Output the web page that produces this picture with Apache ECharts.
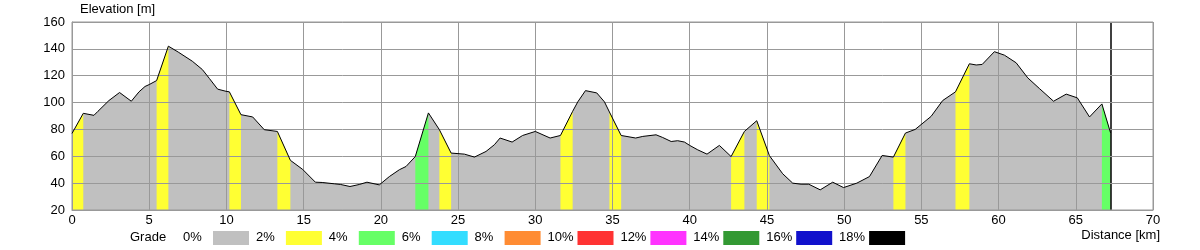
<!DOCTYPE html>
<html>
<head>
<meta charset="utf-8">
<script src="https://cdn.jsdelivr.net/npm/echarts@6/dist/echarts.min.js"></script>
<style>
html,body{margin:0;padding:0;background:#fff;}
#chart{width:1200px;height:250px;}
</style>
</head>
<body>
<div id="chart"></div>
<script>
// Profile points
const distanceKm = [0, 0.73, 1.42, 1.68, 2.39, 3.08, 3.84, 4.34, 4.73, 5.0, 5.48, 6.24, 6.88, 7.79, 8.44, 8.9, 9.43, 9.97, 10.19, 10.94, 11.7, 12.45, 13.3, 14.14, 14.94, 15.76, 16.2, 17.0, 17.4, 18.0, 18.6, 19.1, 19.9, 20.55, 21.2, 21.63, 22.23, 23.08, 23.79, 24.55, 25.41, 26.06, 26.81, 27.35, 27.72, 28.5, 29.18, 30.0, 30.96, 31.63, 32.42, 32.75, 33.25, 33.98, 34.48, 34.8, 35.56, 36.5, 36.96, 37.82, 38.25, 38.8, 39.22, 39.66, 40.0, 40.52, 41.12, 41.92, 42.68, 43.54, 44.34, 45.16, 46.02, 46.67, 47.21, 47.71, 48.45, 49.26, 49.96, 50.82, 51.64, 52.46, 53.19, 53.97, 54.6, 55.63, 56.38, 57.21, 58.11, 58.55, 58.94, 59.73, 60.38, 61.14, 61.89, 62.65, 63.56, 64.38, 65.1, 65.89, 66.69, 67.25];
const elevationM = [77, 92, 90.5, 93.5, 101.5, 107.5, 101, 108, 112, 113.4, 116.4, 142, 137.6, 130.8, 124.6, 117.9, 110, 108.4, 108, 91, 89.3, 79.8, 78.5, 57, 50.2, 40.7, 40.5, 39.5, 39, 37.5, 39, 40.7, 38.7, 44.9, 50, 52.4, 59.8, 92.3, 79.8, 62.4, 61.6, 59.4, 63.6, 68.6, 73.6, 70.6, 75.5, 78.5, 73.6, 75.5, 93.5, 100.5, 108.9, 107.2, 100.5, 93, 75.5, 73.6, 74.8, 76, 74, 71, 71.6, 70.6, 68.1, 64.8, 61.6, 68.1, 59.8, 78.5, 86.5, 60.5, 47, 40, 39.2, 39.2, 35, 40.7, 36.7, 40, 44.9, 60.6, 59.4, 77.3, 80, 89.7, 101.5, 108, 128.9, 128, 128.4, 137.9, 135.3, 129.6, 118.4, 110.4, 101, 106.3, 103.5, 89.3, 99, 77.5];
// Grade band (lower bound, %) of each segment between consecutive points
const segmentGrade = [2, 0, 0, 0, 0, 0, 0, 0, 0, 0, 2, 0, 0, 0, 0, 0, 0, 0, 2, 0, 0, 0, 2, 0, 0, 0, 0, 0, 0, 0, 0, 0, 0, 0, 0, 0, 4, 0, 2, 0, 0, 0, 0, 0, 0, 0, 0, 0, 0, 2, 0, 0, 0, 0, 0, 2, 0, 0, 0, 0, 0, 0, 0, 0, 0, 0, 0, 0, 2, 0, 2, 0, 0, 0, 0, 0, 0, 0, 0, 0, 0, 0, 2, 0, 0, 0, 0, 2, 0, 0, 0, 0, 0, 0, 0, 0, 0, 0, 0, 0, 4];
// Legend
const gradeLabels = ['0%', '2%', '4%', '6%', '8%', '10%', '12%', '14%', '16%', '18%'];
const gradeSteps = [0, 2, 4, 6, 8, 10, 12, 14, 16, 18];
const gradeColors = ['#c0c0c0', '#ffff33', '#66ff66', '#33ddff', '#ff8c33', '#ff3333', '#ff33ff', '#339933', '#1111cc', '#000000'];
const yMin = 20, yMax = 160, yStep = 20;
const xMin = 0, xMax = 70, xStep = 5;

const FONT = "'Liberation Sans', Arial, sans-serif";
const profile = distanceKm.map((d, i) => [d, elevationM[i]]);
const coloredSegs = [];
for (let i = 0; i < segmentGrade.length; i++) {
  if (segmentGrade[i] > 0) {
    coloredSegs.push([distanceKm[i], elevationM[i], distanceKm[i + 1], elevationM[i + 1], segmentGrade[i]]);
  }
}
function gradeColor(g) {
  const k = gradeSteps.indexOf(g);
  return gradeColors[k < 0 ? 0 : k];
}

const legendGraphics = [{
  type: 'text', left: 130, top: 231,
  style: { text: 'Grade', font: '13px ' + FONT, fill: '#000' }
}];
gradeLabels.forEach((lab, k) => {
  legendGraphics.push({
    type: 'text', left: 183 + k * 72.9, top: 231,
    style: { text: lab, font: '13px ' + FONT, fill: '#000' }
  });
  legendGraphics.push({
    type: 'rect', shape: { x: 213 + k * 72.9, y: 231, width: 36, height: 14 },
    style: { fill: gradeColors[k] }
  });
});
legendGraphics.push({
  type: 'text', right: 40, top: 229,
  style: { text: 'Distance [km]', font: '13px ' + FONT, fill: '#000' }
});
legendGraphics.push({
  type: 'text', left: 80, top: 3,
  style: { text: 'Elevation [m]', font: '13px ' + FONT, fill: '#000' }
});

const chart = echarts.init(document.getElementById('chart'), null, { renderer: 'canvas' });
chart.setOption({
  animation: false,
  backgroundColor: '#fff',
  grid: { left: 72, top: 22, width: 1081, height: 188, show: true, borderColor: '#999', borderWidth: 1, backgroundColor: 'transparent', z: 10 },
  xAxis: {
    type: 'value', min: xMin, max: xMax, interval: xStep, z: 10,
    axisLine: { show: true, lineStyle: { color: '#999', width: 1 } },
    axisTick: { show: false },
    splitLine: { show: true, lineStyle: { color: '#999', width: 1 } },
    axisLabel: { color: '#000', fontSize: 13, fontFamily: FONT, margin: 4 }
  },
  yAxis: {
    type: 'value', min: yMin, max: yMax, interval: yStep, z: 10,
    axisLine: { show: true, lineStyle: { color: '#999', width: 1 } },
    axisTick: { show: false },
    splitLine: { show: true, lineStyle: { color: '#999', width: 1 } },
    axisLabel: { color: '#000', fontSize: 13, fontFamily: FONT, margin: 7, padding: [0, 0, 4, 0] }
  },
  graphic: legendGraphics,
  series: [
    {
      type: 'line', data: profile, symbol: 'none', z: 1, silent: true,
      lineStyle: { width: 0, opacity: 0 },
      areaStyle: { color: gradeColors[0], opacity: 1, origin: 'start' }
    },
    {
      type: 'custom', data: coloredSegs, z: 2, silent: true,
      encode: { x: [0, 2], y: [1, 3] },
      renderItem: function (params, api) {
        const d0 = api.value(0), e0 = api.value(1), d1 = api.value(2), e1 = api.value(3), g = api.value(4);
        const pts = [api.coord([d0, yMin]), api.coord([d0, e0]), api.coord([d1, e1]), api.coord([d1, yMin])];
        return { type: 'polygon', shape: { points: pts }, style: { fill: gradeColor(g), stroke: null } };
      }
    },
    {
      type: 'line', data: profile, symbol: 'none', z: 20, silent: true,
      lineStyle: { color: '#000', width: 1 },
      markLine: {
        silent: true, symbol: 'none', animation: false,
        label: { show: false },
        lineStyle: { color: '#000', width: 1.5, type: 'solid' },
        data: [{ xAxis: distanceKm[distanceKm.length - 1] }]
      }
    }
  ]
});
</script>
</body>
</html>
